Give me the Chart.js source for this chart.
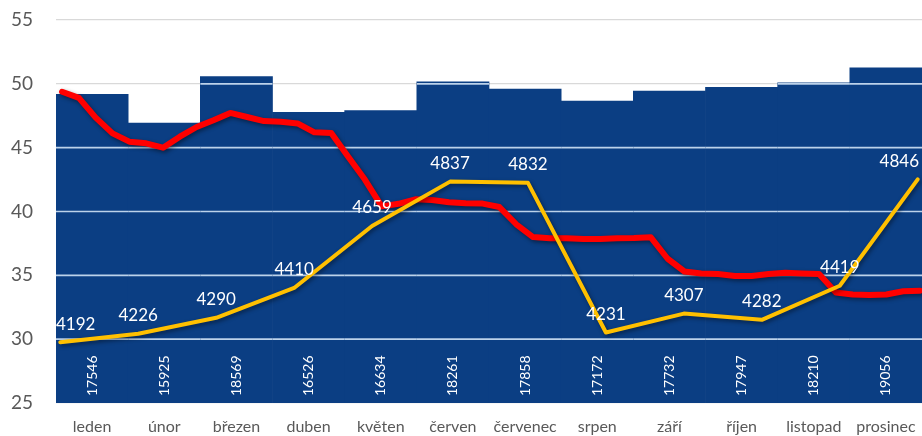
<!DOCTYPE html>
<html lang="cs">
<head>
<meta charset="utf-8">
<script src="https://cdn.jsdelivr.net/npm/chart.js@4/dist/chart.umd.min.js"></script>
<style>
  html, body { margin: 0; padding: 0; background: #ffffff; }
  #wrap { width: 922px; height: 436px; }
</style>
</head>
<body>
<div id="wrap"><canvas id="chart" width="922" height="436"></canvas></div>
<script>
// Months of the year (category axis)
const months = ['leden', 'únor', 'březen', 'duben', 'květen', 'červen',
                'červenec', 'srpen', 'září', 'říjen', 'listopad', 'prosinec'];

// Monthly totals (bars, hidden secondary axis)
const monthTotals = [17546, 15925, 18569, 16526, 16634, 18261,
                     17858, 17172, 17732, 17947, 18210, 19056];

// Monthly averages (yellow line, hidden axis)
const monthAverages = [4192, 4226, 4290, 4410, 4659, 4837,
                       4832, 4231, 4307, 4282, 4419, 4846];

// Weekly values on the left axis (red line), weeks 1..52
const weeklyRate = [
  49.38, 48.9, 47.35, 46.12, 45.47, 45.34, 45.0, 45.86, 46.62, 47.15,
  47.72, 47.4, 47.08, 47.03, 46.9, 46.2, 46.15, 44.3, 42.5, 40.4,
  40.6, 40.95, 40.9, 40.72, 40.64, 40.62, 40.35, 39.0, 38.0, 37.9,
  37.9, 37.85, 37.85, 37.9, 37.92, 37.98, 36.3, 35.3, 35.15, 35.1,
  34.95, 34.95, 35.1, 35.2, 35.15, 35.1, 33.65, 33.5, 33.46, 33.5,
  33.75, 33.8
];

// Left axis range and step
const leftMin = 25, leftMax = 55, leftStep = 5;

const FONT = 'Lato, "Open Sans", "DejaVu Sans", sans-serif';
const BAR_COLOR = '#0b3e83';
const GRID_ON_BAR = '#bcd2ea';

// Grid lines over the bars, line shadows, numeric labels
const overlayPlugin = {
  id: 'overlay',
  beforeDatasetDraw(chart, args) {
    if (args.index === 0) return;
    const ctx = chart.ctx;
    ctx.save();
    ctx.shadowColor = 'rgba(0,0,0,0.45)';
    ctx.shadowBlur = 4;
    ctx.shadowOffsetX = 1.5;
    ctx.shadowOffsetY = 2;
  },
  afterDatasetDraw(chart, args) {
    const ctx = chart.ctx;
    if (args.index !== 0) { ctx.restore(); return; }
    // light grid lines across the bar bodies
    const yScale = chart.scales.y;
    const meta = chart.getDatasetMeta(0);
    ctx.save();
    ctx.strokeStyle = GRID_ON_BAR;
    ctx.lineWidth = 1.6;
    meta.data.forEach(bar => {
      const p = bar.getProps(['x', 'y', 'width', 'base'], true);
      yScale.ticks.forEach(t => {
        const py = yScale.getPixelForValue(t.value);
        if (py > p.y + 1 && py < p.base - 1) {
          ctx.beginPath();
          ctx.moveTo(p.x - p.width / 2, py);
          ctx.lineTo(p.x + p.width / 2, py);
          ctx.stroke();
        }
      });
    });
    ctx.restore();
  },
  afterDatasetsDraw(chart) {
    const ctx = chart.ctx;
    const area = chart.chartArea;
    ctx.save();
    ctx.fillStyle = '#ffffff';

    // vertical totals inside the bar bases
    const barMeta = chart.getDatasetMeta(0);
    ctx.font = '14px ' + FONT;
    ctx.textAlign = 'left';
    ctx.textBaseline = 'middle';
    barMeta.data.forEach((bar, i) => {
      const p = bar.getProps(['x', 'base'], true);
      ctx.save();
      ctx.translate(p.x, p.base - 7);
      ctx.rotate(-Math.PI / 2);
      ctx.fillText(String(monthTotals[i]), 0, 0);
      ctx.restore();
    });

    // averages above the yellow line points
    const avgMeta = chart.getDatasetMeta(2);
    ctx.font = '17px ' + FONT;
    ctx.textAlign = 'center';
    ctx.textBaseline = 'middle';
    avgMeta.data.forEach((pt, i) => {
      const txt = String(monthAverages[i]);
      const w = ctx.measureText(txt).width;
      let x = pt.x;
      x = Math.max(area.left + w / 2, Math.min(area.right - 3 - w / 2, x));
      ctx.fillText(txt, x, pt.y - 18);
    });
    ctx.restore();
  }
};

new Chart(document.getElementById('chart'), {
  type: 'bar',
  data: {
    labels: months,
    datasets: [
      {
        type: 'bar',
        data: monthTotals,
        xAxisID: 'x',
        yAxisID: 'yBar',
        backgroundColor: BAR_COLOR,
        borderWidth: 0,
        barPercentage: 1,
        categoryPercentage: 1,
        grouped: false,
        order: 3
      },
      {
        type: 'line',
        data: weeklyRate.map((v, i) => ({ x: i + 1, y: v })),
        xAxisID: 'xWeek',
        yAxisID: 'y',
        borderColor: '#ff0000',
        borderWidth: 6,
        borderJoinStyle: 'round',
        borderCapStyle: 'round',
        pointRadius: 0,
        tension: 0,
        order: 2
      },
      {
        type: 'line',
        data: monthAverages.map((v, i) => ({ x: i, y: v })),
        xAxisID: 'xMonth',
        yAxisID: 'yAvg',
        borderColor: '#ffc000',
        borderWidth: 4,
        borderJoinStyle: 'round',
        borderCapStyle: 'round',
        pointRadius: 0,
        tension: 0,
        order: 1
      }
    ]
  },
  options: {
    responsive: false,
    animation: false,
    devicePixelRatio: 1,
    layout: { autoPadding: false, padding: { top: 20, right: 0, bottom: 0, left: 0 } },
    plugins: {
      legend: { display: false },
      tooltip: { enabled: false }
    },
    scales: {
      x: {
        type: 'category',
        offset: true,
        grid: { display: false, drawTicks: false },
        border: { display: false },
        ticks: {
          color: '#595959',
          font: { family: FONT, size: 16 },
          padding: 14,
          maxRotation: 0,
          autoSkip: false
        },
        afterFit(scale) {
          scale.paddingLeft = 0;
          scale.paddingRight = 0;
          scale.height = 33;
        }
      },
      xMonth: { type: 'linear', display: false, offset: false, min: -0.055, max: 11.055 },
      xWeek: { type: 'linear', display: false, offset: false, min: 0.64, max: 52.12 },
      y: {
        position: 'left',
        min: leftMin,
        max: leftMax,
        ticks: {
          stepSize: leftStep,
          color: '#595959',
          font: { family: FONT, size: 19 },
          padding: 23
        },
        grid: { color: '#d9d9d9', lineWidth: 1.2, drawTicks: false },
        border: { display: false },
        afterFit(scale) {
          scale.width = 56;
          scale.paddingTop = 10;
          scale.paddingBottom = 10;
        }
      },
      yBar: { display: false, min: 0, max: 21780 },
      yAvg: { display: false, min: 3948, max: 5486 }
    }
  },
  plugins: [overlayPlugin]
});
</script>
</body>
</html>
